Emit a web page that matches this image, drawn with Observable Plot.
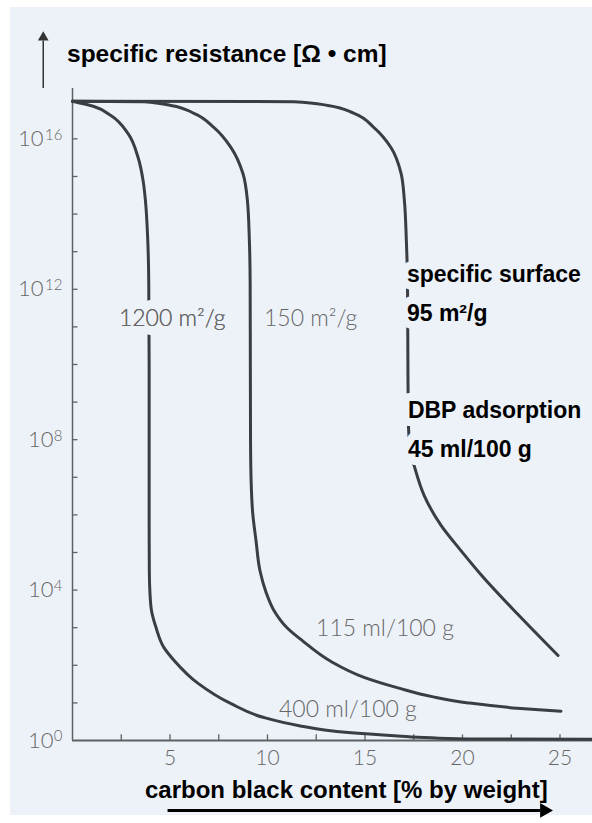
<!DOCTYPE html>
<html><head><meta charset="utf-8">
<script src="https://cdn.jsdelivr.net/npm/d3@7"></script>
<script src="https://cdn.jsdelivr.net/npm/@observablehq/plot@0.6"></script>
<style>
html,body{margin:0;padding:0;background:#fff}
#page{position:relative;width:592px;height:823px;overflow:hidden}
#bg{position:absolute;left:10px;top:7px;width:582px;height:808px;background:#edf2f9}
#chart{position:absolute;left:0;top:0}
.lbl{position:absolute;font-family:"Liberation Sans",Arial,sans-serif;font-weight:bold;color:#000;white-space:nowrap;line-height:1}
#title{left:67px;top:42px;font-size:24.5px}
#xlabel{left:145px;top:778px;font-size:24px}
</style></head>
<body><div id="page"><div id="bg"></div><div id="chart"></div>
<div id="title" class="lbl">specific resistance [Ω • cm]</div>
<div id="xlabel" class="lbl">carbon black content [% by weight]</div></div>
<script>
// carbon black content [% by weight] and log10 of specific resistance [Ω·cm]
const x1200 = [0,1.1,1.97,2.85,3.36,3.62,3.74,3.86,3.91,3.93,3.93,3.93,3.94,3.97,4.05,4.28,4.69,5.21,6.44,8.13,9.82,11.56,14.13,16.69,18.4,20.9,26.7];
const e1200 = [17.0,16.86,16.62,16.14,15.51,14.89,14.36,13.3,12.2,10.0,8.0,6.0,4.5,3.95,3.46,3.01,2.47,2.13,1.52,0.98,0.61,0.40,0.21,0.12,0.07,0.04,0.03];
const x150 = [0,3.67,5.05,6.23,7.26,8.13,8.74,8.97,9.07,9.11,9.12,9.13,9.16,9.25,9.41,9.62,9.92,10.33,11.0,11.8,13.26,14.95,16.69,18.5,20.3,22.8,25.05];
const e150 = [17.0,16.99,16.89,16.68,16.30,15.77,15.08,14.36,13.3,12.2,10,8,6.9,6.0,5.32,4.5,3.95,3.46,3.0,2.65,2.1,1.68,1.40,1.16,1.0,0.86,0.78];
const x95 = [0,11.36,13.1,14.44,15.46,16.33,16.85,17.02,17.12,17.18,17.2,17.22,17.27,17.37,17.52,18.03,18.9,19.92,20.95,22.85,24.9];
const e95 = [17.0,16.99,16.89,16.68,16.30,15.77,15.08,14.36,13.3,12.2,10,8.6,7.98,7.58,7.31,6.52,5.72,5.05,4.41,3.35,2.26];

const xTickLabels = [5,10,15,20,25];
const xMinorTicks = [2.5,5,7.5,10,12.5,15,17.5,20,22.5,25];
const yTickExps = [0,4,8,12,16];
const yMinorExps = [1,2,3,4,5,6,7,8,9,10,11,12,13,14,15,16,17];

const curveLabels = ["1200 m²/g","150 m²/g","115 ml/100 g","400 ml/100 g"];
const curveLabelX = [2.38,9.82,12.49,10.59];
const curveLabelE = [11.21,11.21,2.97,0.81];
const noteLabels = ["specific surface","95 m²/g","DBP adsorption","45 ml/100 g"];
const noteLabelX = [17.15,17.15,17.2,17.2];
const noteLabelE = [12.40,11.34,8.78,7.74];

const series = [
  {name:"1200 m²/g", xs:x1200, es:e1200},
  {name:"150 m²/g", xs:x150, es:e150},
  {name:"95 m²/g", xs:x95, es:e95}
];
const data = series.flatMap(s => s.xs.map((x,i) => ({series:s.name, x, y:10**s.es[i]})));
const cl = curveLabels.map((t,i) => ({t, x:curveLabelX[i], y:10**curveLabelE[i]}));
const nl = noteLabels.map((t,i) => ({t, x:noteLabelX[i], y:10**noteLabelE[i]}));

const BG = "#edf2f9", AX = "#5e6064", CURVE = "#3a3e43", GREY = "#666";
const XMAX = 520/19.5, YTOP = 10**17.34;
const lightFont = {fontFamily:"Lato, 'Open Sans', sans-serif", fontWeight:300, fill:GREY};

const chart = Plot.plot({
  width:592, height:823,
  marginLeft:72, marginRight:0, marginTop:88, marginBottom:83,
  style:{background:"transparent", overflow:"visible"},
  x:{domain:[0, XMAX], axis:null},
  y:{type:"log", domain:[1, YTOP], axis:null},
  marks:[
    Plot.ruleX([0], {y1:1, y2:YTOP, stroke:AX, strokeWidth:1.5}),
    Plot.ruleY([1], {x1:0, x2:XMAX, stroke:AX, strokeWidth:2}),
    Plot.ruleY(yMinorExps, {y:e => 10**e, x1:0, x2:0.28, stroke:AX, strokeWidth:1.3}),
    Plot.ruleX(xMinorTicks, {x:d => d, y1:1, y2:10**0.15, stroke:AX, strokeWidth:1.3}),
    Plot.text(xTickLabels, {x:d => d, y:1, dy:18, text:d => String(d), fontSize:21, ...lightFont}),
    Plot.text(yTickExps, {filter:e => e >= 10, x:0, y:e => 10**e, text:() => "10", textAnchor:"end", dx:-29, fontSize:22, ...lightFont}),
    Plot.text(yTickExps, {filter:e => e < 10, x:0, y:e => 10**e, text:() => "10", textAnchor:"end", dx:-19, fontSize:22, ...lightFont}),
    Plot.text(yTickExps, {x:0, y:e => 10**e, text:e => String(e), textAnchor:"end", dx:-10, dy:-4, fontSize:15, ...lightFont}),
    Plot.line(data, {x:"x", y:"y", z:"series", stroke:CURVE, strokeWidth:3, curve:"monotone-y"}),
    Plot.text(cl, {filter:d => d.t === "1200 m²/g", x:"x", y:"y", text:"t", textAnchor:"start", fontSize:23, stroke:BG, strokeWidth:18, ...lightFont}),
    Plot.text(cl, {x:"x", y:"y", text:"t", textAnchor:"start", fontSize:23, ...lightFont}),
    Plot.text(nl, {x:"x", y:"y", text:"t", textAnchor:"start", fontSize:23, fontWeight:"bold", fontFamily:"Liberation Sans, Arial, sans-serif", fill:"#000", stroke:BG, strokeWidth:16}),
    Plot.ruleX([-1.5], {y1:YTOP, y2:10**18.6, stroke:"#333", strokeWidth:1.5}),
    Plot.dot([0], {x:-1.5, y:10**18.7, symbol:"triangle", r:4, fill:"#333", stroke:null}),
    Plot.ruleY([10**-1.86], {x1:4.9, x2:24.0, stroke:"#000", strokeWidth:3}),
    Plot.dot([0], {x:24.2, y:10**-1.86, symbol:"triangle", r:5.5, rotate:90, fill:"#000", stroke:null})
  ]
});
document.getElementById("chart").appendChild(chart);
</script>
</body></html>
